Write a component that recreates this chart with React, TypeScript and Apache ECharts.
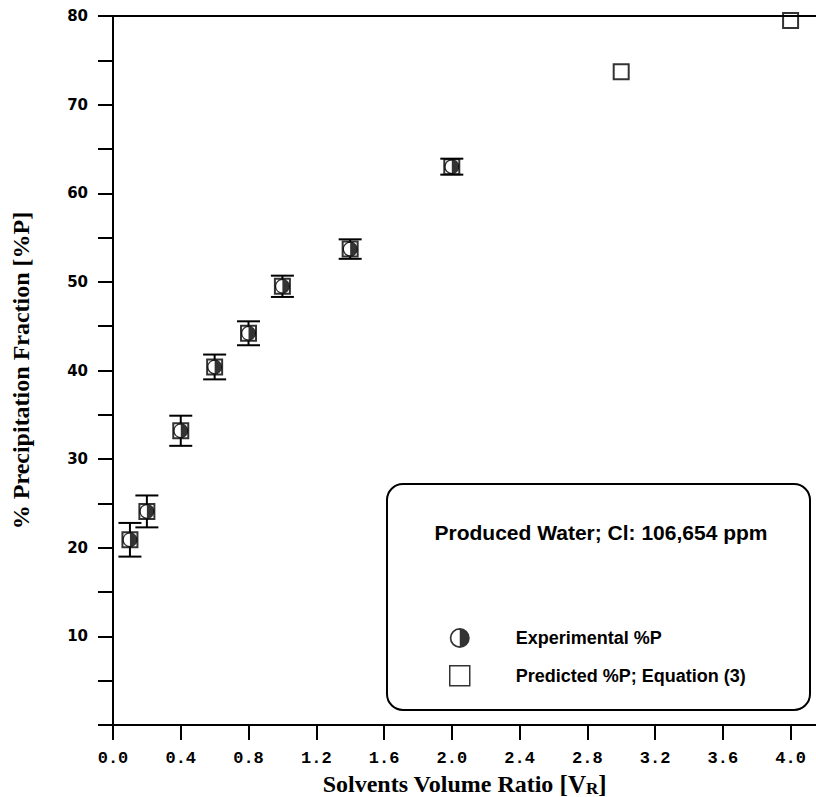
import React, { useEffect, useRef } from 'react';
import * as echarts from 'echarts';

// Experimental %P (with error bars)
const expX = [0.1, 0.2, 0.4, 0.6, 0.8, 1.0, 1.4, 2.0];
const expY = [20.9, 24.1, 33.2, 40.4, 44.2, 49.5, 53.7, 63.0];
const expErr = [1.9, 1.8, 1.7, 1.4, 1.35, 1.2, 1.1, 0.9];

// Predicted %P; Equation (3)
const predX = [0.1, 0.2, 0.4, 0.6, 0.8, 1.0, 1.4, 2.0, 3.0, 4.0];
const predY = [20.9, 24.1, 33.2, 40.4, 44.2, 49.5, 53.7, 63.0, 73.7, 79.5];

const xTickValues = [0, 0.4, 0.8, 1.2, 1.6, 2.0, 2.4, 2.8, 3.2, 3.6, 4.0];
const yLabelValues = [10, 20, 30, 40, 50, 60, 70, 80];

const seriesNames = ['Experimental %P', 'Predicted %P; Equation (3)'];
const boxTitle = 'Produced Water; Cl: 106,654 ppm';

const HALF_FILLED =
  'path://M10 0A10 10 0 1 1 10 20A10 10 0 1 1 10 0ZM10 1.7A8.3 8.3 0 1 0 10 18.3A8.3 8.3 0 1 0 10 1.7ZM10 0A10 10 0 0 1 10 20Z';

export default function App() {
  const ref = useRef<HTMLDivElement>(null);

  useEffect(() => {
    if (!ref.current) return;
    const chart = echarts.init(ref.current, null, { renderer: 'svg' });

    const errData = expX.map((x, i) => [x, expY[i] - expErr[i], expY[i] + expErr[i], expY[i]]);

    const option: any = {
      animation: false,
      backgroundColor: '#fff',
      grid: { left: 113, right: 0, top: 16, bottom: 72, containLabel: false, outerBoundsMode: 'none' },
      xAxis: [
        {
          type: 'value',
          min: 0,
          max: 4.15,
          position: 'bottom',
          name: '{a|Solvents Volume Ratio }{b|[V}{c|R}{b|]}',
          nameLocation: 'middle',
          nameGap: 33,
          nameTextStyle: {
            rich: {
              a: { fontFamily: 'Liberation Serif', fontWeight: 'bold', fontSize: 24, color: '#000', lineHeight: 26 },
              b: { fontFamily: 'Liberation Serif', fontWeight: 'bold', fontSize: 25, color: '#000', lineHeight: 26 },
              c: { fontFamily: 'Liberation Serif', fontWeight: 'bold', fontSize: 17, color: '#000', lineHeight: 16, verticalAlign: 'bottom' },
            },
          },
          axisLine: { show: true, lineStyle: { color: '#000', width: 2 } },
          axisTick: { show: true, length: 15, customValues: xTickValues, lineStyle: { color: '#000', width: 2 } },
          axisLabel: {
            customValues: xTickValues,
            margin: 25,
            formatter: (v: number) => v.toFixed(1),
            fontFamily: 'Liberation Mono',
            fontWeight: 'bold',
            fontSize: 17,
            color: '#000',
          },
          splitLine: { show: false },
        },
        {
          type: 'value',
          min: 0,
          max: 4.15,
          position: 'top',
          axisLine: { show: true, lineStyle: { color: '#000', width: 2 } },
          axisTick: { show: false },
          axisLabel: { show: false },
          splitLine: { show: false },
        },
      ],
      yAxis: {
        type: 'value',
        min: 0,
        max: 80,
        interval: 5,
        name: '% Precipitation Fraction [%P]',
        nameLocation: 'middle',
        nameGap: 80,
        nameTextStyle: { fontFamily: 'Liberation Serif', fontWeight: 'bold', fontSize: 24, color: '#000' },
        axisLine: { show: true, lineStyle: { color: '#000', width: 2 } },
        axisTick: { show: true, length: 15, lineStyle: { color: '#000', width: 2 } },
        axisLabel: {
          margin: 25,
          formatter: (v: number) => (yLabelValues.indexOf(v) >= 0 ? String(v) : ''),
          fontFamily: 'DejaVu Sans',
          fontWeight: 'bold',
          fontSize: 15,
          color: '#000',
        },
        splitLine: { show: false },
      },
      legend: {
        orient: 'vertical',
        left: 444,
        top: 623,
        itemWidth: 20,
        itemHeight: 20,
        itemGap: 17,
        data: [
          { name: seriesNames[0], icon: HALF_FILLED, itemStyle: { color: '#000', borderWidth: 0 } },
          { name: seriesNames[1], icon: 'rect', itemStyle: { color: 'rgba(0,0,0,0)', borderColor: '#000', borderWidth: 1.5 } },
        ],
        textStyle: {
          fontFamily: 'Liberation Sans',
          fontWeight: 'bold',
          fontSize: 18,
          color: '#000',
          padding: [0, 0, 0, 41],
        },
        selectedMode: false,
      },
      graphic: [
        {
          type: 'rect',
          shape: { x: 387, y: 484, width: 423, height: 226, r: 16 },
          style: { fill: 'none', stroke: '#000', lineWidth: 2 },
          z: 10,
        },
        {
          type: 'text',
          x: 601,
          y: 532,
          style: {
            text: boxTitle,
            fontFamily: 'Liberation Sans',
            fontWeight: 'bold',
            fontSize: 21,
            fill: '#000',
            align: 'center',
            verticalAlign: 'middle',
          },
          z: 10,
        },
      ],
      series: [
        {
          name: 'error',
          type: 'custom',
          data: errData,
          encode: { x: 0, y: [1, 2] },
          z: 1,
          silent: true,
          renderItem: (params: any, api: any) => {
            const x = api.value(0);
            const lo = api.value(1);
            const hi = api.value(2);
            const c = api.value(3);
            const pHi = api.coord([x, hi]);
            const pLo = api.coord([x, lo]);
            const pC = api.coord([x, c]);
            const half = 11.5;
            const gap = 7.5;
            const st = { stroke: '#000', lineWidth: 2 };
            const children: any[] = [
              { type: 'line', shape: { x1: pHi[0] - half, y1: pHi[1], x2: pHi[0] + half, y2: pHi[1] }, style: st },
              { type: 'line', shape: { x1: pLo[0] - half, y1: pLo[1], x2: pLo[0] + half, y2: pLo[1] }, style: st },
            ];
            if (pHi[1] < pC[1] - gap) {
              children.push({ type: 'line', shape: { x1: pC[0], y1: pHi[1], x2: pC[0], y2: pC[1] - gap }, style: st });
            }
            if (pLo[1] > pC[1] + gap) {
              children.push({ type: 'line', shape: { x1: pC[0], y1: pC[1] + gap, x2: pC[0], y2: pLo[1] }, style: st });
            }
            return { type: 'group', children };
          },
        },
        {
          name: seriesNames[0],
          type: 'scatter',
          data: expX.map((x, i) => [x, expY[i]]),
          symbol: HALF_FILLED,
          symbolSize: 15,
          itemStyle: { color: '#000', borderWidth: 0 },
          z: 3,
        },
        {
          name: seriesNames[1],
          type: 'scatter',
          data: predX.map((x, i) => [x, predY[i]]),
          symbol: 'rect',
          symbolSize: 15,
          itemStyle: { color: 'rgba(0,0,0,0)', borderColor: '#000', borderWidth: 2 },
          z: 4,
        },
      ],
    };

    chart.setOption(option);
    return () => chart.dispose();
  }, []);

  return (
    <div
      ref={ref}
      style={{ position: 'fixed', left: 0, top: 0, width: 816, height: 797, background: '#fff' }}
    />
  );
}
